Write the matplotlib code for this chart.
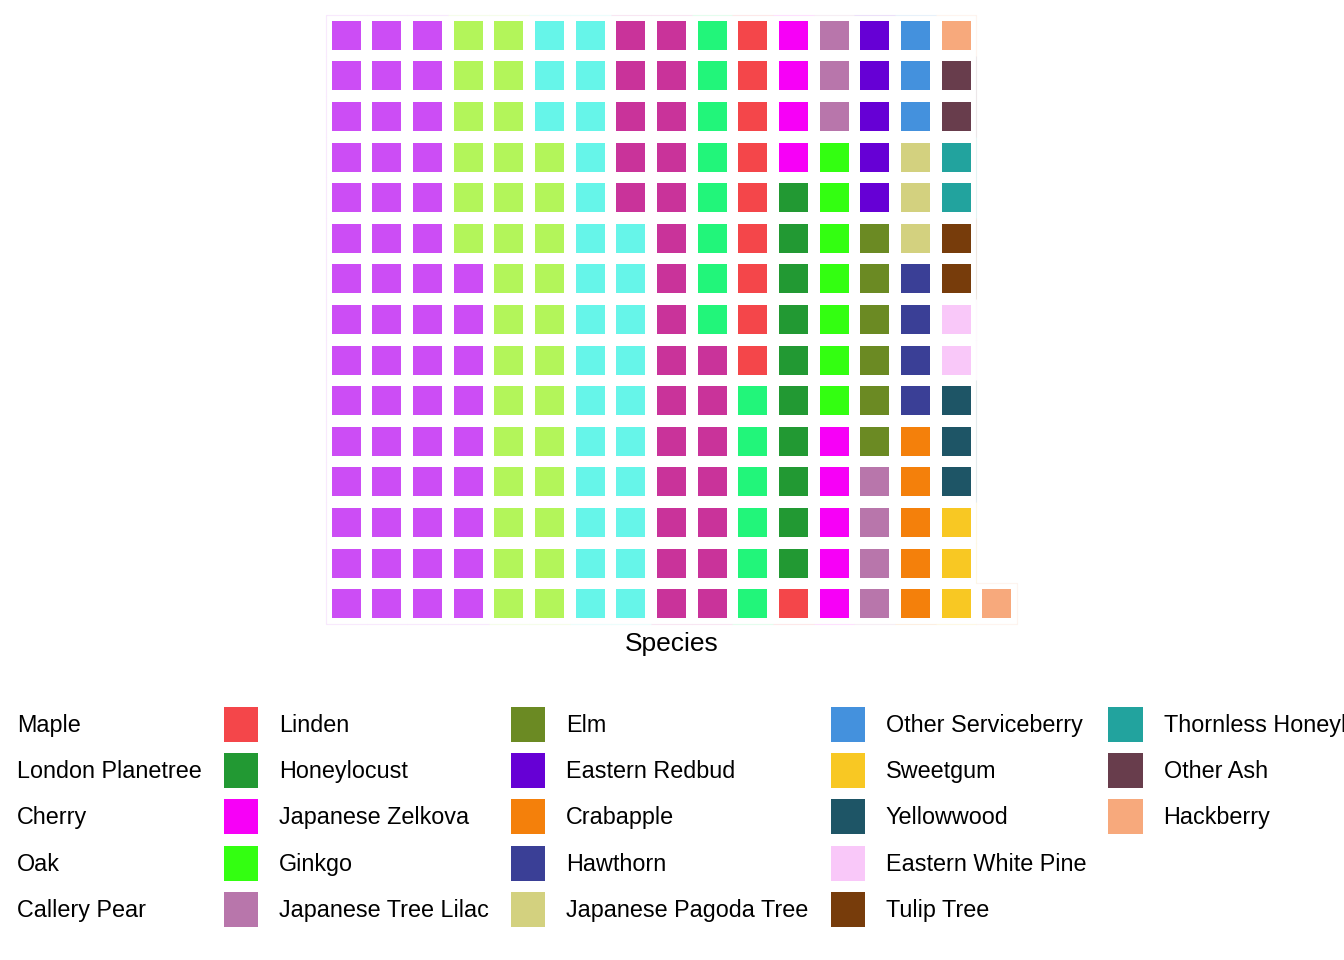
import matplotlib.pyplot as plt
from matplotlib.patches import Rectangle, Patch

plt.rcParams['font.family'] = ['Liberation Sans', 'DejaVu Sans']

# species counts (one tile per tree), sorted by count
species = ['Maple', 'London Planetree', 'Cherry', 'Oak', 'Callery Pear',
           'Linden', 'Honeylocust', 'Japanese Zelkova', 'Ginkgo', 'Japanese Tree Lilac',
           'Elm', 'Eastern Redbud', 'Crabapple', 'Hawthorn', 'Japanese Pagoda Tree',
           'Other Serviceberry', 'Sweetgum', 'Yellowwood', 'Eastern White Pine', 'Tulip Tree',
           'Thornless Honeylocust', 'Other Ash', 'Hackberry']
counts = [54, 33, 28, 27, 14,
          10, 10, 9, 7, 7,
          6, 5, 5, 4, 3,
          3, 3, 3, 2, 2,
          2, 2, 2]
colors = ['#CC4DF5', '#B3F55A', '#66F5E9', '#C9339A', '#22F57A',
          '#F4464A', '#229933', '#F700F7', '#33FF11', '#B876AB',
          '#6B8A23', '#6600D5', '#F4800B', '#3A3F96', '#D3D17F',
          '#4491DD', '#F8C823', '#1E5566', '#F9C8F9', '#773C0B',
          '#22A39E', '#683D4C', '#F7A97C']
n_rows = 15

fig = plt.figure(figsize=(13.44, 9.6), dpi=100)
ax = fig.add_axes([326/1344, 1-624/960, 691/1344, 609/960])

# fill columns bottom to top, left to right
tile = 0.714
cells = {}
k = 0
for name, n, c in zip(species, counts, colors):
    for _ in range(n):
        col = k // n_rows + 1
        row = k % n_rows + 1
        cells[(col, row)] = c
        ax.add_patch(Rectangle((col - tile/2, row - tile/2), tile, tile,
                               facecolor=c, edgecolor='none'))
        k += 1

# faint outline along the outer edge of the grid
for (col, row), c in cells.items():
    sides = [((-1, 0), [col-.5, col-.5], [row-.5, row+.5]),
             ((1, 0), [col+.5, col+.5], [row-.5, row+.5]),
             ((0, -1), [col-.5, col+.5], [row-.5, row-.5]),
             ((0, 1), [col-.5, col+.5], [row+.5, row+.5])]
    for (dx, dy), xs, ys in sides:
        if (col + dx, row + dy) not in cells:
            ax.plot(xs, ys, color=c, alpha=0.12, lw=0.8, solid_capstyle='butt',
                    clip_on=False)

n_cols = (k - 1) // n_rows + 1
ax.set_xlim(0.5, n_cols + 0.5)
ax.set_ylim(0.5, n_rows + 0.5)
ax.set_xticks([])
ax.set_yticks([])
for s in ax.spines.values():
    s.set_visible(False)
ax.set_xlabel('Species', fontsize=19, labelpad=5.5)

handles = [Patch(facecolor=c, edgecolor='none') for c in colors]
labels = list(species)
# two blank entries so the legend fills 5 per column like the original
handles += [Patch(facecolor='none', edgecolor='none')] * 2
labels += ['', '']
fig.legend(handles, labels, loc='upper center', bbox_to_anchor=(0.5 + 10/1344, 1-707/960),
           ncol=5, frameon=False, fontsize=16.8, handlelength=1.46, handleheight=1.93,
           handletextpad=0.9, columnspacing=0.95, labelspacing=0.48,
           borderpad=0, borderaxespad=0)

fig.savefig('out.png', dpi=100)
